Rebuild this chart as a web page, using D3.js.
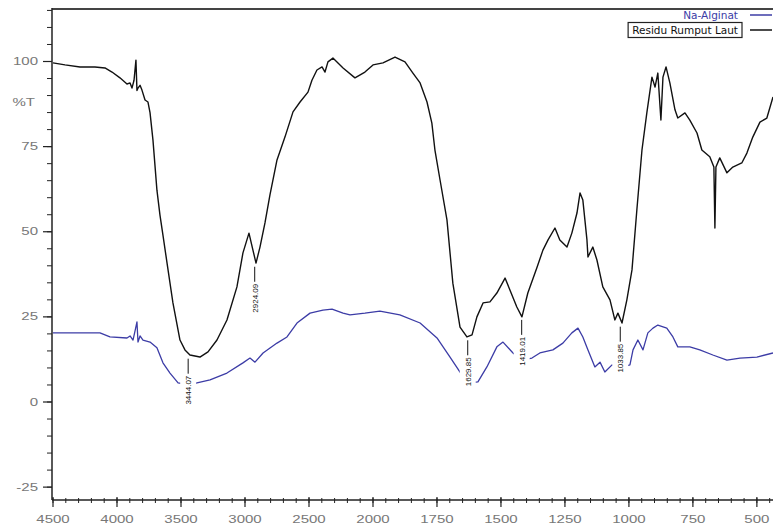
<!DOCTYPE html>
<html>
<head>
<meta charset="utf-8">
<script src="https://cdn.jsdelivr.net/npm/d3@7"></script>
<style>
  body { margin: 0; background: #fff; }
  .font { font-family: "Liberation Sans", Arial, sans-serif; }
  .tick-label { font-size: 10px; fill: #777; }
  .peak-label { font-size: 8px; fill: #111; }
  .legend-label { font-family: "DejaVu Sans", sans-serif; font-size: 10.5px; }
</style>
</head>
<body>
<svg id="chart" width="773" height="529"></svg>
<script>
const SVG_WIDTH = 773;
const SVG_HEIGHT = 529;

// Residu Rumput Laut (black)
const residuWn = [4500, 4406, 4289, 4172, 4094, 4039, 3977, 3922, 3898, 3883, 3867, 3852, 3844, 3836, 3820, 3805,
    3781, 3758, 3742, 3719, 3688, 3664, 3641, 3609, 3563, 3508, 3469, 3430, 3352, 3289, 3219, 3141, 3063, 3016,
    2969, 2938, 2914, 2883, 2844, 2805, 2750, 2688, 2625, 2570, 2508, 2477, 2438, 2398, 2375, 2352, 2313, 2234,
    2141, 2063, 2000, 1961, 1914, 1875, 1844, 1816, 1789, 1770, 1758, 1738, 1711, 1688, 1660, 1633, 1613, 1594,
    1570, 1543, 1516, 1484, 1465, 1438, 1418, 1395, 1359, 1336, 1316, 1289, 1270, 1242, 1223, 1203, 1191, 1180,
    1164, 1160, 1141, 1125, 1102, 1074, 1055, 1043, 1027, 1008, 988, 969, 949, 930, 910, 898, 887, 875, 867, 855,
    840, 820, 809, 781, 762, 734, 715, 684, 668, 664, 660, 645, 617, 594, 559, 539, 516, 488, 461, 437];
const residuT = [99.6, 99.0, 98.4, 98.4, 98.1, 96.9, 95.2, 93.4, 93.7, 92.2, 94.5, 100.4, 91.5, 92.2, 93.0, 91.6,
    88.7, 88.1, 85.0, 76.9, 62.2, 54.8, 49.0, 40.8, 29.1, 18.2, 15.3, 13.8, 13.2, 14.7, 18.2, 24.1, 33.8, 43.8,
    49.6, 44.6, 40.8, 45.5, 52.6, 60.8, 71.1, 77.8, 85.2, 88.1, 91.0, 94.5, 97.5, 98.4, 96.9, 99.9, 101.0, 98.1,
    95.2, 96.9, 99.0, 99.6, 101.3, 99.9, 96.6, 93.7, 88.1, 81.9, 74.0, 65.2, 53.5, 34.9, 22.0, 19.1, 19.7, 25.0,
    29.1, 29.4, 32.0, 36.4, 32.9, 27.9, 25.0, 32.0, 39.6, 44.6, 47.6, 51.1, 47.6, 45.5, 49.6, 55.5, 61.4, 59.3,
    47.6, 42.6, 45.5, 41.7, 33.8, 30.0, 24.1, 26.1, 23.2, 30.0, 38.8, 56.4, 74.0, 84.9, 95.4, 92.5, 96.6, 82.8, 95.4, 98.4,
    93.7, 85.8, 83.4, 84.9, 82.8, 79.0, 74.0, 72.0, 69.0, 51.1, 69.0, 71.7, 67.3, 69.0, 70.2, 73.1, 77.8, 82.2, 83.4, 89.6];

// Na-Alginat (blue)
const alginatWn = [4500, 4133, 4055, 3922, 3898, 3875, 3859, 3844, 3836, 3820, 3797, 3742, 3688, 3641, 3586, 3523,
    3430, 3375, 3273, 3141, 3016, 2961, 2922, 2859, 2750, 2672, 2594, 2492, 2391, 2320, 2234, 2180, 2063, 1973,
    1895, 1816, 1750, 1699, 1660, 1629, 1590, 1555, 1516, 1492, 1453, 1418, 1379, 1348, 1297, 1258, 1223, 1199,
    1180, 1160, 1133, 1113, 1094, 1066, 1035, 996, 984, 965, 945, 926, 906, 887, 852, 828, 809, 762, 723, 672,
    617, 566, 500, 437];
const alginatT = [20.3, 20.3, 19.1, 18.8, 19.4, 18.2, 20.9, 23.5, 17.6, 19.4, 18.2, 17.6, 15.9, 11.5, 8.5, 5.6,
    5.0, 5.6, 6.5, 8.5, 11.5, 12.9, 11.7, 14.4, 17.3, 19.1, 23.2, 26.1, 27.0, 27.3, 26.1, 25.6, 26.1, 26.7,
    25.6, 23.2, 18.8, 13.2, 8.8, 5.6, 5.9, 10.3, 16.2, 17.6, 14.4, 12.3, 12.9, 14.4, 15.3, 17.3, 20.3, 21.7,
    19.1, 15.3, 10.3, 11.7, 8.8, 10.9, 10.0, 10.9, 15.3, 18.2, 15.3, 20.3, 21.7, 22.6, 21.7, 19.1, 16.2, 16.2, 15.3, 13.8,
    12.3, 12.9, 13.2, 14.4];

// peak annotations on the black spectrum
const peakWn = [3444.07, 2924.09, 1629.85, 1419.01, 1033.85];
const peakT = [13.6, 40.6, 19.0, 25.0, 23.0];

const xMajorTicks = [4500, 4000, 3500, 3000, 2500, 2000, 1750, 1500, 1250, 1000, 750, 500];
const yMajorTicks = [-25, 0, 25, 50, 75, 100];
const legendNames = ["Na-Alginat", "Residu Rumput Laut"];
const legendColors = ["#3c3ca6", "#111"];

const svg = d3.select("#chart");

// FTIR axis: 2x expanded below 2000
const xScale = d3.scaleLinear()
    .domain([4500, 2000, 437])
    .range([53, 373, 773]);
const yScale = d3.scaleLinear()
    .domain([0, 100])
    .range([402, 61.5]);

const AXIS_Y = 500;
const AXIS_X = 52;
const LABEL_STRETCH = 1.5;

// the tick labels in the reference are stretched sideways
function stretch(sel) {
    sel.each(function() {
        var w = this.getComputedTextLength();
        d3.select(this)
            .attr("textLength", w * LABEL_STRETCH)
            .attr("lengthAdjust", "spacingAndGlyphs");
    });
}

svg.append("defs").append("clipPath").attr("id", "plotClip")
    .append("rect").attr("x", AXIS_X).attr("y", 9).attr("width", SVG_WIDTH - AXIS_X).attr("height", AXIS_Y - 9);

// frame: top line and left axis
svg.append("line")
    .attr("x1", AXIS_X).attr("x2", SVG_WIDTH).attr("y1", 9).attr("y2", 9)
    .attr("stroke", "#444").attr("stroke-width", 2);
svg.append("line")
    .attr("x1", AXIS_X).attr("x2", AXIS_X).attr("y1", 8).attr("y2", AXIS_Y)
    .attr("stroke", "#222").attr("stroke-width", 1.5);
svg.append("line")
    .attr("x1", AXIS_X).attr("x2", SVG_WIDTH).attr("y1", AXIS_Y).attr("y2", AXIS_Y)
    .attr("stroke", "#222").attr("stroke-width", 1.5);

// x ticks
var xMinor = d3.range(4500, 2000, -100).concat(d3.range(2000, 437, -50));
svg.append("g").selectAll("line").data(xMinor).enter().append("line")
    .attr("x1", d => xScale(d)).attr("x2", d => xScale(d))
    .attr("y1", AXIS_Y - 2).attr("y2", AXIS_Y + 3)
    .attr("stroke", "#222").attr("stroke-width", 1);
svg.append("g").selectAll("line").data(xMajorTicks).enter().append("line")
    .attr("x1", d => xScale(d)).attr("x2", d => xScale(d))
    .attr("y1", AXIS_Y - 3).attr("y2", AXIS_Y + 7)
    .attr("stroke", "#222").attr("stroke-width", 1.2);
svg.append("g").selectAll("text").data(xMajorTicks).enter().append("text")
    .attr("x", d => xScale(d)).attr("y", AXIS_Y + 23)
    .attr("text-anchor", "middle")
    .text(d => d)
    .classed("font tick-label", true)
    .call(stretch);

// y ticks
var yMinor = d3.range(-25, 116, 5);
svg.append("g").selectAll("line").data(yMinor).enter().append("line")
    .attr("x1", AXIS_X - 5).attr("x2", AXIS_X)
    .attr("y1", d => yScale(d)).attr("y2", d => yScale(d))
    .attr("stroke", "#222").attr("stroke-width", 1);
svg.append("g").selectAll("line").data(yMajorTicks).enter().append("line")
    .attr("x1", AXIS_X - 9).attr("x2", AXIS_X)
    .attr("y1", d => yScale(d)).attr("y2", d => yScale(d))
    .attr("stroke", "#222").attr("stroke-width", 1.2);
svg.append("g").selectAll("text").data(yMajorTicks).enter().append("text")
    .attr("x", 38).attr("y", d => yScale(d) + 3.5)
    .attr("text-anchor", "end")
    .text(d => d)
    .classed("font tick-label", true)
    .call(stretch);
svg.append("text")
    .attr("x", 35).attr("y", 106)
    .attr("text-anchor", "end")
    .text("%T")
    .classed("font tick-label", true)
    .call(stretch);

// spectra
var line = d3.line()
    .x(d => xScale(d[0]))
    .y(d => yScale(d[1]));
var plot = svg.append("g").attr("clip-path", "url(#plotClip)");
plot.append("path")
    .datum(residuWn.map((w, i) => [w, residuT[i]]))
    .attr("d", line)
    .attr("fill", "none")
    .attr("stroke", legendColors[1])
    .attr("stroke-width", 1.4)
    .attr("stroke-linejoin", "round");
plot.append("path")
    .datum(alginatWn.map((w, i) => [w, alginatT[i]]))
    .attr("d", line)
    .attr("fill", "none")
    .attr("stroke", legendColors[0])
    .attr("stroke-width", 1.3)
    .attr("stroke-linejoin", "round");

// peak labels
for (var i = 0; i < peakWn.length; i++) {
    var px = xScale(peakWn[i]);
    var py = yScale(peakT[i]) + 3;
    var g = svg.append("g");
    g.append("rect")
        .attr("x", px - 8).attr("y", py + 4)
        .attr("width", 16).attr("height", 52)
        .attr("fill", "#fff");
    g.append("line")
        .attr("x1", px).attr("x2", px)
        .attr("y1", py).attr("y2", py + 15)
        .attr("stroke", "#111").attr("stroke-width", 1);
    g.append("text")
        .attr("transform", "translate(" + (px + 3) + "," + (py + 17) + ") rotate(-90)")
        .attr("text-anchor", "end")
        .text(peakWn[i].toFixed(2))
        .classed("font peak-label", true);
}

// legend
var legendY = [15, 30];
for (var j = 0; j < legendNames.length; j++) {
    var t = svg.append("text")
        .attr("x", 738).attr("y", legendY[j] + 4)
        .attr("text-anchor", "end")
        .attr("fill", legendColors[j])
        .text(legendNames[j])
        .classed("legend-label", true);
    svg.append("line")
        .attr("x1", 750).attr("x2", 772)
        .attr("y1", legendY[j]).attr("y2", legendY[j])
        .attr("stroke", legendColors[j]).attr("stroke-width", 1.5);
    if (j === 1) {
        var bb = t.node().getBBox();
        svg.append("rect")
            .attr("x", bb.x - 4).attr("y", legendY[j] - 7.5)
            .attr("width", bb.width + 8).attr("height", 15)
            .attr("fill", "none").attr("stroke", "#222").attr("stroke-width", 1.2);
    }
}
</script>
</body>
</html>
